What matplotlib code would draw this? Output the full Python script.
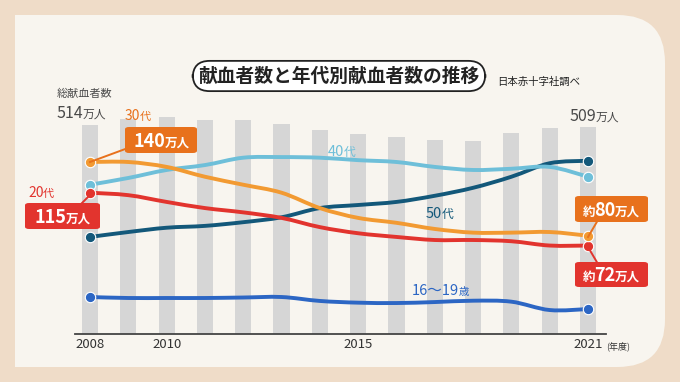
import matplotlib
matplotlib.use('Agg')
import matplotlib.pyplot as plt
from matplotlib.patches import FancyBboxPatch, Rectangle, PathPatch
from matplotlib.path import Path
import numpy as np

plt.rcParams['font.family'] = ['Noto Sans CJK JP', 'DejaVu Sans']

W, H = 680, 382

# data (万人)
years = list(range(2008, 2022))
total = [514, 530, 534, 526, 526, 516, 502, 492, 485, 477, 475, 494, 507, 509]
teens = [30.1, 29.3, 29.3, 29.3, 29.7, 30.1, 26.9, 25.5, 25.2, 26.0, 27.1, 26.3, 19.5, 20.3]
age20 = [115, 113, 107.5, 102.5, 99, 94.5, 87, 82, 79, 76.5, 76.5, 75.5, 72, 72]
age30 = [140, 140, 136, 128, 121.5, 115, 102.5, 94.5, 90.5, 85.5, 82.5, 82.5, 83, 80]
age40 = [121.5, 127, 133.5, 137.5, 143.5, 144, 143.5, 141.5, 140, 136, 133.5, 134.5, 136, 128]
age50 = [79, 83, 86.5, 88, 91, 95, 102.5, 105, 107.5, 112.5, 119, 128, 139, 141]
xticks = [2008, 2010, 2015, 2021]

c_bg = '#efdcc8'
c_card = '#f8f5ef'
c_bar = '#d6d6d6'
c_or = '#f29a32'
c_orbox = '#e8711c'
c_lb = '#6ebfd9'
c_red = '#e2342e'
c_teal = '#13587a'
c_blue = '#2c66c4'
c_txt = '#4a4a4a'

fig = plt.figure(figsize=(W / 100, H / 100), dpi=100)
fig.patch.set_facecolor(c_bg)


def fx(x):
    return x / W


def fy(y):
    return 1 - y / H


# card
card = FancyBboxPatch((fx(15), fy(367)), fx(665) - fx(15), fy(15) - fy(367),
                      boxstyle='round,pad=0,rounding_size=0.07',
                      transform=fig.transFigure, facecolor=c_card, edgecolor='none',
                      mutation_aspect=W / H, zorder=-2)
fig.patches.append(card)
fig.patches.append(Rectangle((fx(15), fy(367)), fx(300) - fx(15), fy(15) - fy(367),
                             transform=fig.transFigure, facecolor=c_card,
                             edgecolor='none', zorder=-2))

# axes
ax = fig.add_axes([fx(75), fy(334), fx(606) - fx(75), fy(100) - fy(334)])
ax.set_facecolor('none')
ax.bar(years, total, width=0.42, color=c_bar, zorder=1)
ax.set_xlim(2008 - 15 / 38.3, 2021 + 18 / 38.3)
ax.set_ylim(0, 234 / 0.4066)
for s in ['top', 'right', 'left']:
    ax.spines[s].set_visible(False)
ax.spines['bottom'].set_color('#444444')
ax.spines['bottom'].set_linewidth(1.3)
ax.set_yticks([])
ax.set_xticks(xticks)
ax.set_xticklabels([str(t) for t in xticks], fontsize=9.5, color='#333333')
ax.tick_params(axis='x', length=0, pad=3)

ax2 = ax.twinx()
ax2.set_ylim(0, 234 / 1.2286)
ax2.axis('off')


def smooth_path(xs, ys, k=1 / 6):
    # cubic bezier through the data points (catmull-rom style handles)
    p = np.column_stack([xs, ys]).astype(float)
    verts = [p[0]]
    codes = [Path.MOVETO]
    n = len(p)
    for i in range(n - 1):
        p0 = p[i - 1] if i > 0 else p[i]
        p3 = p[i + 2] if i + 2 < n else p[i + 1]
        c1 = p[i] + (p[i + 1] - p0) * k
        c2 = p[i + 1] - (p3 - p[i]) * k
        verts += [c1, c2, p[i + 1]]
        codes += [Path.CURVE4] * 3
    return Path(verts, codes)


for vals, col in [(teens, c_blue), (age50, c_teal), (age40, c_lb),
                  (age20, c_red), (age30, c_or)]:
    ax2.add_patch(PathPatch(smooth_path(years, vals), facecolor='none', edgecolor=col,
                            lw=2.8, joinstyle='round', capstyle='round', zorder=3))
    ax2.plot([years[0], years[-1]], [vals[0], vals[-1]], 'o', color=col,
             markersize=7.5, markeredgecolor='white', markeredgewidth=0.8, zorder=4)

renderer = fig.canvas.get_renderer()


def mixed(x, y, parts, color, weight='normal', ha='left'):
    # parts: list of (text, size); y is baseline in pixels from top
    ts = []
    for s, size in parts:
        t = fig.text(0, 0, s, fontsize=size, color=color, fontweight=weight,
                     va='baseline', ha='left', zorder=6)
        ts.append(t)
    widths = [t.get_window_extent(renderer).width - 0.8 for t in ts]
    total_w = sum(widths)
    if ha == 'center':
        x = x - total_w / 2
    elif ha == 'right':
        x = x - total_w
    for t, w in zip(ts, widths):
        t.set_position((fx(x), fy(y)))
        x += w


def box(x0, y0, x1, y1, color):
    b = FancyBboxPatch((fx(x0), fy(y1)), fx(x1) - fx(x0), fy(y0) - fy(y1),
                       boxstyle='round,pad=0,rounding_size=0.006',
                       transform=fig.transFigure, facecolor=color,
                       edgecolor='none', zorder=5)
    fig.patches.append(b)


def connector(x0, y0, x1, y1, color):
    fig.add_artist(plt.Line2D([fx(x0), fx(x1)], [fy(y0), fy(y1)], color=color,
                              lw=1.4, transform=fig.transFigure, zorder=4))


# title
fig.text(fx(339), fy(76), '献血者数と年代別献血者数の推移', fontsize=13.5,
         fontweight='bold', color='#222222', ha='center', va='center',
         bbox=dict(boxstyle='round,pad=0.3,rounding_size=0.9', facecolor='white',
                   edgecolor='#222222', linewidth=1.3))
fig.text(fx(497), fy(82), '日本赤十字社調べ', fontsize=7.5, color='#222222',
         ha='left', va='center')

# totals
fig.text(fx(57), fy(94), '総献血者数', fontsize=8, color=c_txt, ha='left', va='center')
mixed(57, 118, [('514', 11.5), ('万人', 8.5)], c_txt)
mixed(570, 121, [('509', 11.5), ('万人', 8.5)], c_txt)

# 30代
mixed(125, 120, [('30', 10), ('代', 8)], c_orbox)
connector(90, 162, 128, 148, c_orbox)
box(125, 127, 197, 153, c_orbox)
mixed(161, 147, [('140', 13), ('万人', 9)], 'white', weight='bold', ha='center')

# 20代
mixed(28, 197, [('20', 10), ('代', 8)], c_red)
connector(90, 195, 80, 205, c_red)
box(25, 203, 100, 229, c_red)
mixed(62, 223, [('115', 13), ('万人', 9)], 'white', weight='bold', ha='center')

# 40代 / 50代 / 16~19歳
mixed(341, 156, [('40', 10.5), ('代', 8.5)], c_lb, ha='center')
mixed(439, 218, [('50', 10.5), ('代', 8.5)], c_teal, ha='center')
mixed(440, 295, [('16〜19', 10.5), ('歳', 7.5)], c_blue, ha='center')

# right labels
connector(588, 237, 598, 220, c_orbox)
box(575, 196, 648, 222, c_orbox)
mixed(611, 216, [('約', 9), ('80', 13), ('万人', 9)], 'white', weight='bold', ha='center')

connector(588, 247, 598, 264, c_red)
box(575, 262, 648, 287, c_red)
mixed(611, 281, [('約', 9), ('72', 13), ('万人', 9)], 'white', weight='bold', ha='center')

fig.text(fx(606), fy(346), '(年度)', fontsize=6.5, color='#333333', ha='left', va='center')

fig.savefig('out.png', dpi=100, facecolor=fig.get_facecolor())
